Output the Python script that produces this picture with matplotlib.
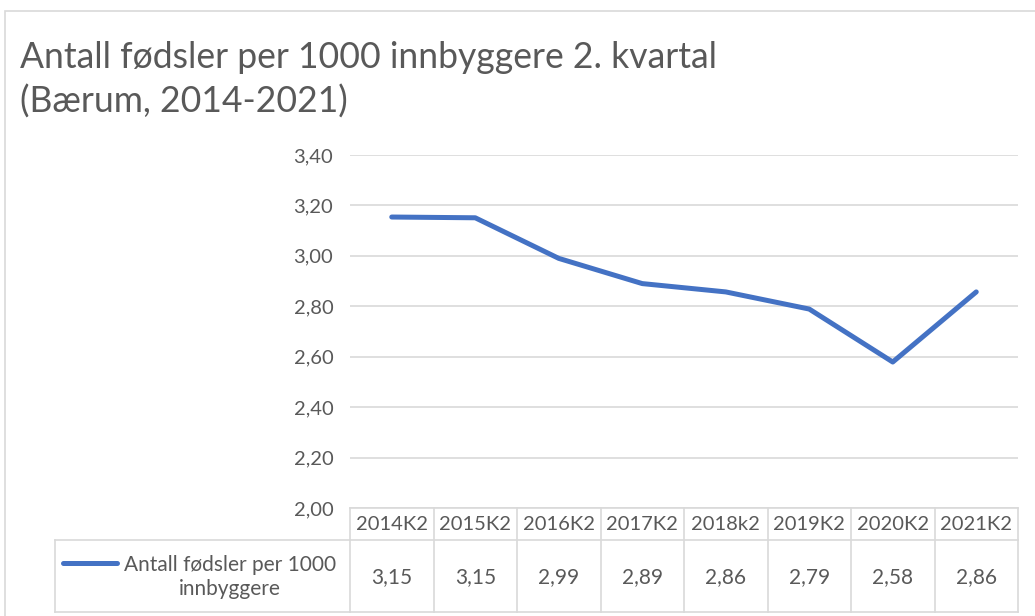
import matplotlib
matplotlib.use("Agg")
import matplotlib.pyplot as plt
from matplotlib.lines import Line2D
from matplotlib.patches import Rectangle

# data
periods = ["2014K2", "2015K2", "2016K2", "2017K2", "2018k2", "2019K2", "2020K2", "2021K2"]
births = [3.154, 3.151, 2.99, 2.89, 2.857, 2.789, 2.579, 2.857]
series_name = "Antall fødsler per 1000\ninnbyggere"
yticks = [2.0, 2.2, 2.4, 2.6, 2.8, 3.0, 3.2, 3.4]

W, H = 1035, 616
blue = "#4472C4"
grid = "#D9D9D9"
txt = "#595959"
plt.rcParams['font.family'] = ['Lato', 'DejaVu Sans']

fig = plt.figure(figsize=(W / 100, H / 100), dpi=100)

def fx(px):
    return px / W

def fy(py):
    return 1 - py / H

# chart border (cropped)
fig.patches.append(Rectangle((fx(5), fy(700)), 2, fy(11) - fy(700), transform=fig.transFigure,
                             fill=False, edgecolor=grid, linewidth=1.2))

# title
fig.text(fx(20), fy(57), "Antall fødsler per 1000 innbyggere 2. kvartal", fontsize=25.6,
         color=txt, va="center", ha="left")
fig.text(fx(20), fy(102), "(Bærum, 2014-2021)", fontsize=25.6,
         color=txt, va="center", ha="left")

# plot area
x0, x1 = 350, 1018
ytop, ybot = 155, 508
ax = fig.add_axes([fx(x0), fy(ybot), fx(x1) - fx(x0), fy(ytop) - fy(ybot)])
xs = list(range(len(periods)))
ax.plot(xs, births, color=blue, linewidth=3.6, solid_capstyle="round", solid_joinstyle="round")
ax.set_xlim(-0.5, len(periods) - 0.5)
ax.set_ylim(2.0, 3.4)
ax.set_yticks(yticks)
ax.set_yticklabels([f"{v:.2f}".replace(".", ",") for v in yticks], color=txt, fontsize=14.5)
ax.tick_params(axis="y", length=0, pad=12)
ax.set_xticks([])
ax.grid(axis="y", color=grid, linewidth=1.2)
ax.set_axisbelow(True)
for s in ax.spines.values():
    s.set_visible(False)

# data table below the plot, aligned with the categories
tax = fig.add_axes([fx(x0), fy(612), fx(x1) - fx(x0), fy(ybot) - fy(612)], sharex=ax)
tax.set_ylim(612, ybot)
tax.axis("off")
lw = 1.2
for y in [ybot, 540, 612]:
    tax.plot([-0.5, len(periods) - 0.5], [y, y], color=grid, linewidth=lw, clip_on=False)
for i in range(len(periods) + 1):
    tax.plot([i - 0.5, i - 0.5], [ybot, 612], color=grid, linewidth=lw, clip_on=False)
for i, (p, v) in enumerate(zip(periods, births)):
    tax.text(i, 525, p, ha="center", va="center", fontsize=14.5, color=txt)
    tax.text(i, 577, f"{v:.2f}".replace(".", ","), ha="center", va="center", fontsize=15, color=txt)

# legend cell to the left of the table
fig.lines.append(Line2D([fx(55), fx(x0)], [fy(540), fy(540)], transform=fig.transFigure, color=grid, linewidth=lw))
fig.lines.append(Line2D([fx(55), fx(x0)], [fy(612), fy(612)], transform=fig.transFigure, color=grid, linewidth=lw))
fig.lines.append(Line2D([fx(55), fx(55)], [fy(540), fy(612)], transform=fig.transFigure, color=grid, linewidth=lw))
fig.lines.append(Line2D([fx(63), fx(117)], [fy(563), fy(563)], transform=fig.transFigure, color=blue,
                        linewidth=3.6, solid_capstyle="round"))
fig.text(fx(230), fy(577), series_name, ha="center", va="center", fontsize=15, color=txt, linespacing=1.25)

fig.savefig("out.png", dpi=100, facecolor="white")
